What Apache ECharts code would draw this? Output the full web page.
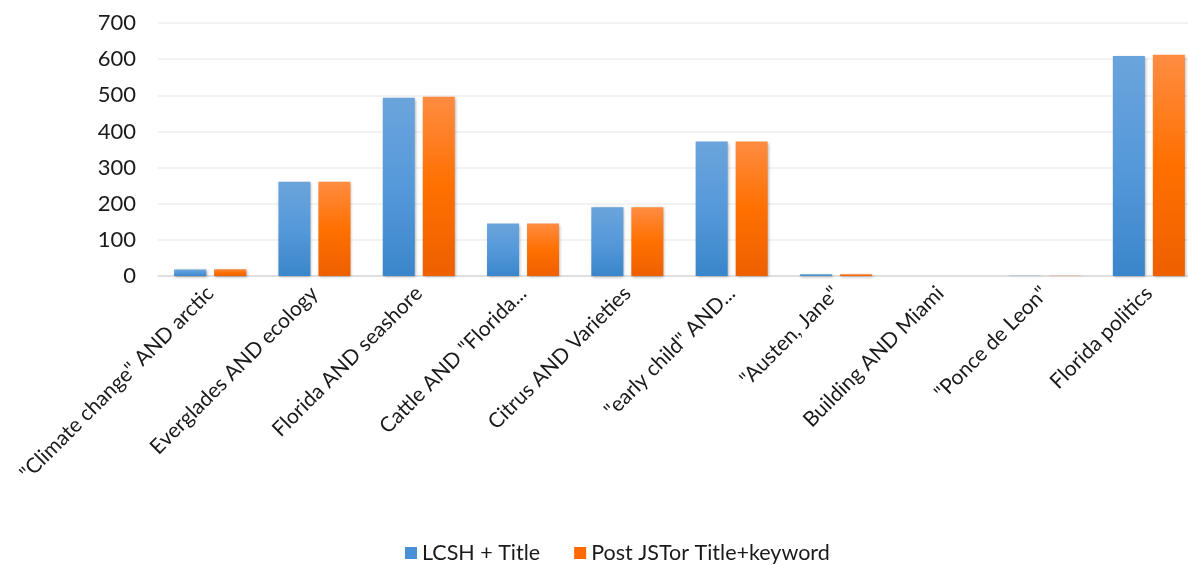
<!DOCTYPE html>
<html><head><meta charset="utf-8">
<script src="https://cdn.jsdelivr.net/npm/echarts@6/dist/echarts.min.js"></script>
<style>html,body{margin:0;padding:0;background:#fff}#c{width:1188px;height:565px}</style>
</head><body><div id="c"></div>
<script>
const categories = ['"Climate change" AND arctic','Everglades AND ecology','Florida AND seashore','Cattle AND "Florida...','Citrus AND Varieties','"early child" AND...','"Austen, Jane"','Building AND Miami','"Ponce de Leon"','Florida politics'];
const seriesNames = ['LCSH + Title','Post JSTor Title+keyword'];
const lcshTitle = [18, 261, 493, 145, 190, 372, 5, 0, 1, 609];
const postJstor = [19, 261, 496, 145, 190, 372, 5, 0, 1, 612];
const yTicks = [0, 100, 200, 300, 400, 500, 600, 700];

const font = 'Lato, "Open Sans", sans-serif';
const grad = (a,b,c) => new echarts.graphic.LinearGradient(0,0,0,1,[{offset:0,color:a},{offset:0.5,color:b},{offset:1,color:c}]);
const chart = echarts.init(document.getElementById('c'), null, {renderer:'canvas'});
chart.setOption({
  animation:false,
  grid:{left:158, width:1043, top:23, height:253, containLabel:false, outerBoundsMode:'none'},
  legend:{bottom:-4, left:400, itemWidth:12, itemHeight:12, itemGap:34,
    textStyle:{fontFamily:font, fontSize:21.5, color:'#1a1a1a'},
    data:[{name:seriesNames[0], icon:'rect', itemStyle:{color:'#4a90d6'}},{name:seriesNames[1], icon:'rect', itemStyle:{color:'#ff6a00'}}]},
  xAxis:{type:'category', data:categories,
    axisLine:{lineStyle:{color:'#d9d9d9', width:1.5}}, axisTick:{show:false},
    axisLabel:{rotate:45, interval:0, fontFamily:font, fontSize:21, color:'#1a1a1a', margin:14}},
  yAxis:{type:'value', min:yTicks[0], max:yTicks[yTicks.length-1], interval:100,
    axisLine:{show:false}, axisTick:{show:false},
    splitLine:{lineStyle:{color:'#eeeeee', width:1.5}},
    axisLabel:{fontFamily:font, fontSize:22, color:'#1a1a1a', margin:22}},
  series:[
    {name:seriesNames[0], type:'bar', data:lcshTitle, barWidth:32, barGap:'25%',
     itemStyle:{color:grad('#6ba4dc','#5599da','#3a86ca'), shadowBlur:3, shadowColor:'rgba(0,0,0,0.35)', shadowOffsetX:1, shadowOffsetY:1}},
    {name:seriesNames[1], type:'bar', data:postJstor, barWidth:32,
     itemStyle:{color:grad('#ff8c42','#ff7000','#ee6000'), shadowBlur:3, shadowColor:'rgba(0,0,0,0.35)', shadowOffsetX:1, shadowOffsetY:1}}
  ]
});
</script></body></html>
